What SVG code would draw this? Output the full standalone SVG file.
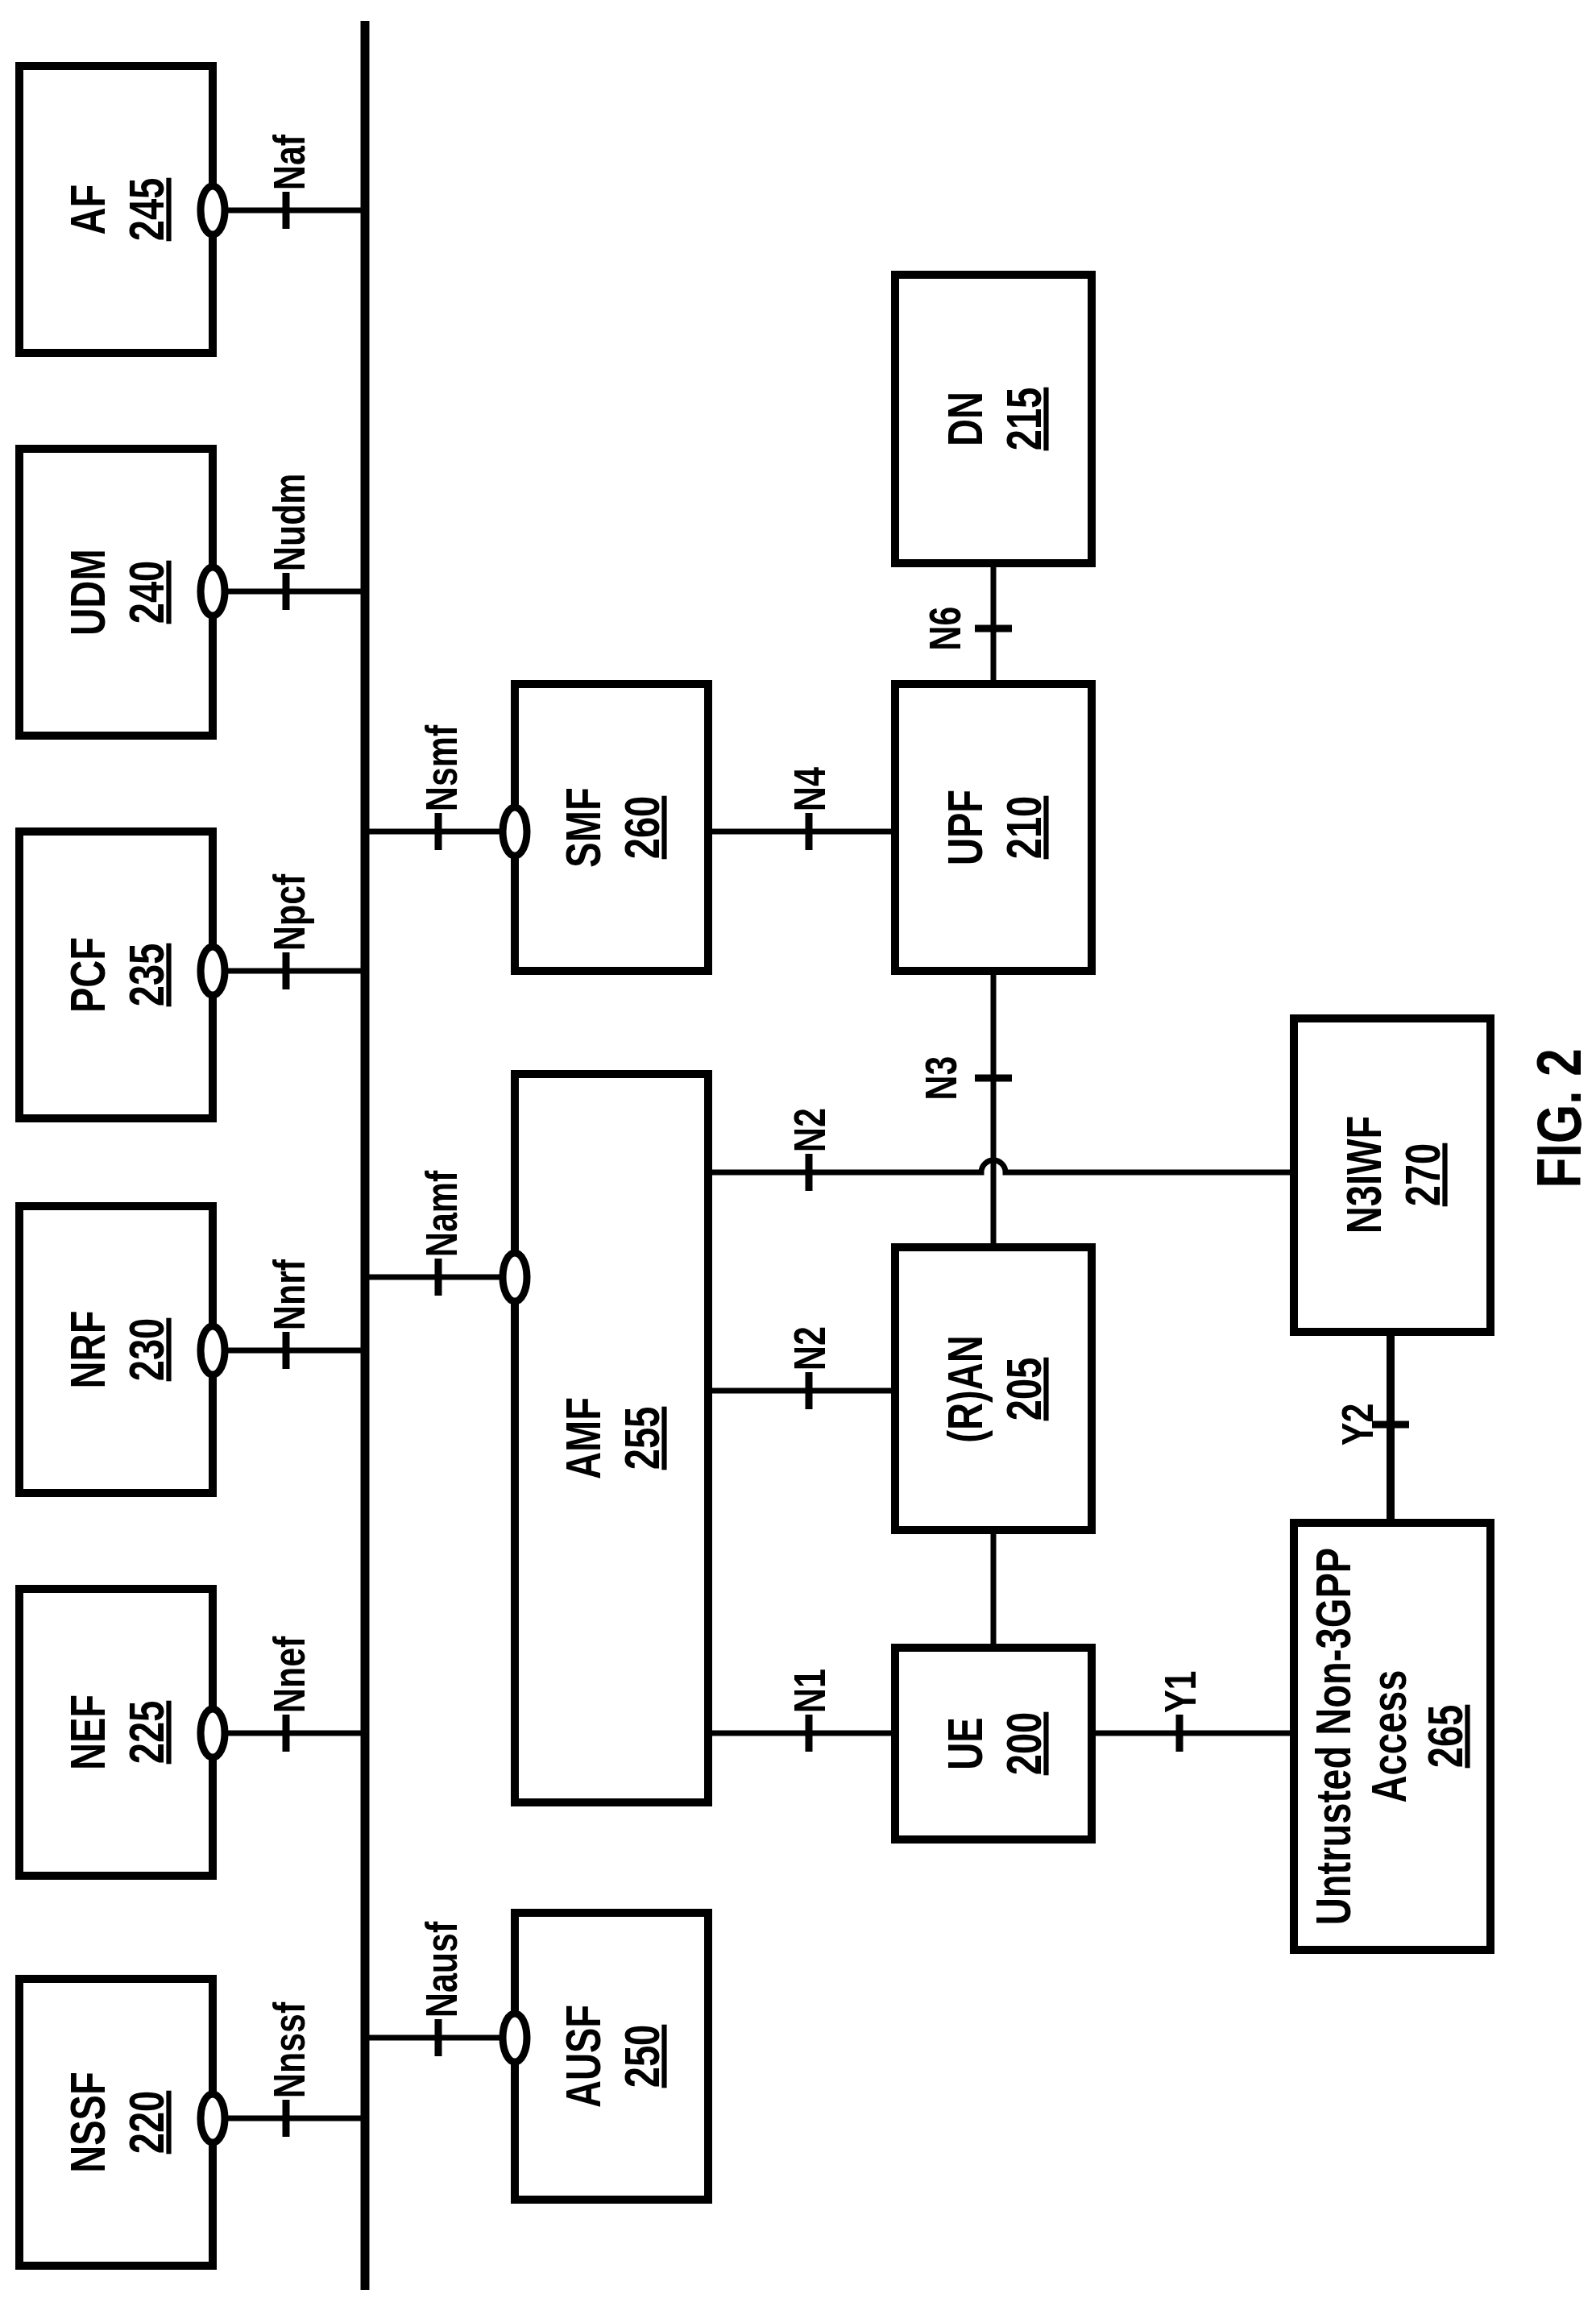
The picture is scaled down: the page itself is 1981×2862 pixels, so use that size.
<svg xmlns="http://www.w3.org/2000/svg" width="1981" height="2862" viewBox="0 0 1981 2862">
<style>
.b{fill:#fff;stroke:#000;stroke-width:10}
.l{fill:none;stroke:#000;stroke-width:7}
.t{stroke:#000;stroke-width:9}
.e{fill:#fff;stroke:#000;stroke-width:9}
text{font-family:"Liberation Sans",Arial,sans-serif;font-weight:bold;fill:#000}
.n{font-size:62px;text-anchor:middle}
.u{text-decoration:underline}
.lb{font-size:55px}
.lc{font-size:55px;text-anchor:middle}
</style>
<rect width="1981" height="2862" fill="#fff"/>
<g id="connectors">
<line x1="453" y1="26" x2="453" y2="2842" stroke="#000" stroke-width="11"/>
<path class="l" d="M249 261H453M249 734H453M249 1205H453M249 1676H453M249 2151H453M249 2629H453"/>
<path class="l" d="M453 1032H624M453 1585H624M453 2529H624"/>
<path class="t" d="M355 238v46M355 711v46M355 1182v46M355 1653v46M355 2128v46M355 2606v46M544 1009v46M544 1562v46M544 2506v46"/>
<g transform="translate(378 0)">
<text class="lb" transform="translate(0 236) rotate(-90) scale(0.78 1)">Naf</text>
<text class="lb" transform="translate(0 709) rotate(-90) scale(0.78 1)">Nudm</text>
<text class="lb" transform="translate(0 1180) rotate(-90) scale(0.78 1)">Npcf</text>
<text class="lb" transform="translate(0 1651) rotate(-90) scale(0.78 1)">Nnrf</text>
<text class="lb" transform="translate(0 2126) rotate(-90) scale(0.78 1)">Nnef</text>
<text class="lb" transform="translate(0 2604) rotate(-90) scale(0.78 1)">Nnssf</text>
</g>
<g transform="translate(567 0)">
<text class="lb" transform="translate(0 1007) rotate(-90) scale(0.78 1)">Nsmf</text>
<text class="lb" transform="translate(0 1560) rotate(-90) scale(0.78 1)">Namf</text>
<text class="lb" transform="translate(0 2504) rotate(-90) scale(0.78 1)">Nausf</text>
</g>
<path class="l" d="M879 1032H1111M879 1726H1111M879 2151H1111M1355 2151H1606"/>
<path class="l" d="M879 1455H1218A15 15 0 0 1 1248 1455H1606"/>
<path class="l" d="M1233 699V849M1233 1205V1548M1233 1899V2045"/>
<path d="M1726 1653V1890" stroke="#000" stroke-width="10"/>
<path class="t" d="M1004 1009v46M1004 1432v46M1004 1703v46M1004 2128v46M1464 2128v46M1210 780h46M1210 1338h46M1703 1768h46"/>
<text class="lb" transform="translate(1024 1007) rotate(-90) scale(0.78 1)">N4</text>
<text class="lb" transform="translate(1024 1430) rotate(-90) scale(0.78 1)">N2</text>
<text class="lb" transform="translate(1024 1701) rotate(-90) scale(0.78 1)">N2</text>
<text class="lb" transform="translate(1024 2126) rotate(-90) scale(0.78 1)">N1</text>
<text class="lb" transform="translate(1484 2126) rotate(-90) scale(0.78 1)">Y1</text>
<text class="lc" transform="translate(1192 780) rotate(-90) scale(0.78 1)">N6</text>
<text class="lc" transform="translate(1187 1338) rotate(-90) scale(0.78 1)">N3</text>
<text class="lc" transform="translate(1704 1768) rotate(-90) scale(0.78 1)">Y2</text>
</g>
<g id="AF"><rect class="b" x="24" y="82" width="240" height="356"/><ellipse class="e" cx="264" cy="261" rx="15" ry="30"/><text class="n" transform="translate(130 260) rotate(-90) scale(0.76 1)">AF</text><text class="n u" transform="translate(203 260) rotate(-90) scale(0.76 1)">245</text></g>
<g id="UDM"><rect class="b" x="24" y="557" width="240" height="356"/><ellipse class="e" cx="264" cy="734" rx="15" ry="30"/><text class="n" transform="translate(130 735) rotate(-90) scale(0.76 1)">UDM</text><text class="n u" transform="translate(203 735) rotate(-90) scale(0.76 1)">240</text></g>
<g id="PCF"><rect class="b" x="24" y="1032" width="240" height="356"/><ellipse class="e" cx="264" cy="1205" rx="15" ry="30"/><text class="n" transform="translate(130 1210) rotate(-90) scale(0.76 1)">PCF</text><text class="n u" transform="translate(203 1210) rotate(-90) scale(0.76 1)">235</text></g>
<g id="NRF"><rect class="b" x="24" y="1497" width="240" height="356"/><ellipse class="e" cx="264" cy="1676" rx="15" ry="30"/><text class="n" transform="translate(130 1675) rotate(-90) scale(0.76 1)">NRF</text><text class="n u" transform="translate(203 1675) rotate(-90) scale(0.76 1)">230</text></g>
<g id="NEF"><rect class="b" x="24" y="1972" width="240" height="356"/><ellipse class="e" cx="264" cy="2151" rx="15" ry="30"/><text class="n" transform="translate(130 2150) rotate(-90) scale(0.76 1)">NEF</text><text class="n u" transform="translate(203 2150) rotate(-90) scale(0.76 1)">225</text></g>
<g id="NSSF"><rect class="b" x="24" y="2456" width="240" height="356"/><ellipse class="e" cx="264" cy="2629" rx="15" ry="30"/><text class="n" transform="translate(130 2634) rotate(-90) scale(0.76 1)">NSSF</text><text class="n u" transform="translate(203 2634) rotate(-90) scale(0.76 1)">220</text></g>
<g id="SMF"><rect class="b" x="639" y="849" width="240" height="356"/><ellipse class="e" cx="639" cy="1032" rx="15" ry="30"/><text class="n" transform="translate(745 1027) rotate(-90) scale(0.76 1)">SMF</text><text class="n u" transform="translate(818 1027) rotate(-90) scale(0.76 1)">260</text></g>
<g id="AMF"><rect class="b" x="639" y="1333" width="240" height="904"/><ellipse class="e" cx="639" cy="1585" rx="15" ry="30"/><text class="n" transform="translate(745 1785) rotate(-90) scale(0.76 1)">AMF</text><text class="n u" transform="translate(818 1785) rotate(-90) scale(0.76 1)">255</text></g>
<g id="AUSF"><rect class="b" x="639" y="2374" width="240" height="356"/><ellipse class="e" cx="639" cy="2529" rx="15" ry="30"/><text class="n" transform="translate(745 2552) rotate(-90) scale(0.76 1)">AUSF</text><text class="n u" transform="translate(818 2552) rotate(-90) scale(0.76 1)">250</text></g>
<g id="DN"><rect class="b" x="1111" y="341" width="244" height="358"/><text class="n" transform="translate(1219 520) rotate(-90) scale(0.76 1)">DN</text><text class="n u" transform="translate(1292 520) rotate(-90) scale(0.76 1)">215</text></g>
<g id="UPF"><rect class="b" x="1111" y="849" width="244" height="356"/><text class="n" transform="translate(1219 1027) rotate(-90) scale(0.76 1)">UPF</text><text class="n u" transform="translate(1292 1027) rotate(-90) scale(0.76 1)">210</text></g>
<g id="RAN"><rect class="b" x="1111" y="1548" width="244" height="351"/><text class="n" transform="translate(1219 1724) rotate(-90) scale(0.76 1)">(R)AN</text><text class="n u" transform="translate(1292 1724) rotate(-90) scale(0.76 1)">205</text></g>
<g id="UE"><rect class="b" x="1111" y="2045" width="244" height="238"/><text class="n" transform="translate(1219 2164) rotate(-90) scale(0.76 1)">UE</text><text class="n u" transform="translate(1292 2164) rotate(-90) scale(0.76 1)">200</text></g>
<g id="N3IWF"><rect class="b" x="1606" y="1264" width="244" height="389"/><text class="n" transform="translate(1714 1458) rotate(-90) scale(0.76 1)">N3IWF</text><text class="n u" transform="translate(1787 1458) rotate(-90) scale(0.76 1)">270</text></g>
<g id="Untrusted"><rect class="b" x="1606" y="1890" width="244" height="530"/><text class="n" transform="translate(1676 2155) rotate(-90) scale(0.76 1)">Untrusted Non-3GPP</text><text class="n" transform="translate(1745 2155) rotate(-90) scale(0.76 1)">Access</text><text class="n u" transform="translate(1815 2155) rotate(-90) scale(0.76 1)">265</text></g>
<text font-size="78" text-anchor="middle" transform="translate(1962 1388) rotate(-90) scale(0.8 1)">FIG. 2</text>
</svg>
